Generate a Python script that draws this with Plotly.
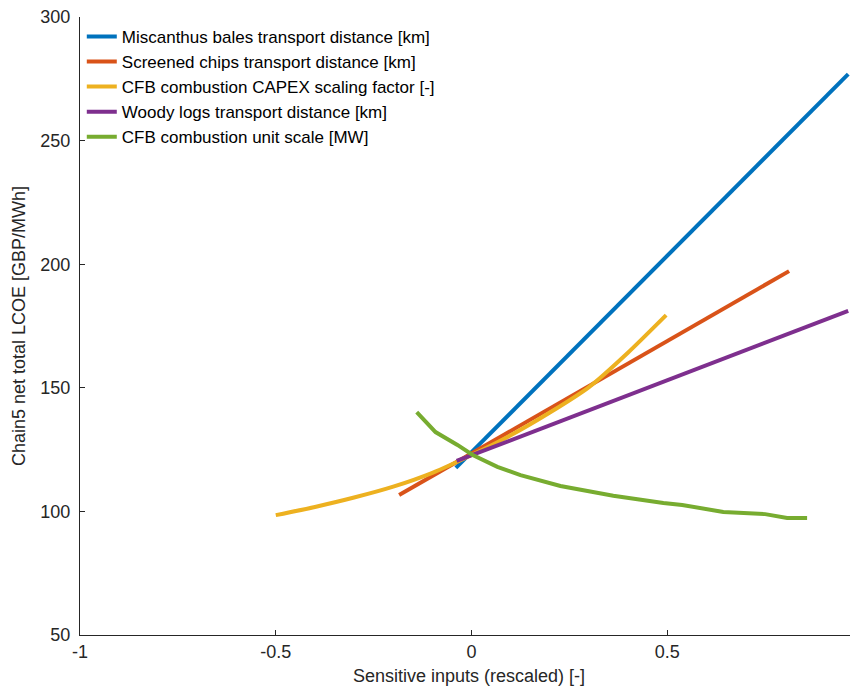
import plotly.graph_objects as go

# ---- data ----
mis_x = [-0.04, 0.962]
mis_y = [117.6, 276.9]

chips_x = [-0.185, 0.811]
chips_y = [106.6, 197.2]

capex_x = [-0.5, -0.4, -0.3, -0.2, -0.1, 0.0, 0.1, 0.2, 0.3, 0.4, 0.497]
capex_y = [98.5, 101.8, 105.6, 110.0, 115.6, 122.8, 130.8, 140.0, 150.3, 164.3, 179.4]

logs_x = [-0.038, 0.962]
logs_y = [120.4, 181.1]

scale_x = [-0.140, -0.092, -0.036, 0.003, 0.066, 0.125, 0.227, 0.362, 0.490, 0.538, 0.643, 0.750, 0.806, 0.857]
scale_y = [140.2, 132.1, 126.9, 122.8, 118.0, 114.7, 110.3, 106.3, 103.4, 102.6, 99.8, 98.9, 97.3, 97.3]

names = [
    "Miscanthus bales transport distance [km]",
    "Screened chips transport distance [km]",
    "CFB combustion CAPEX scaling factor [-]",
    "Woody logs transport distance [km]",
    "CFB combustion unit scale [MW]",
]
colors = ["#0072BD", "#D95319", "#EDB120", "#7E2F8E", "#77AC30"]
shapes = ["linear", "linear", "spline", "linear", "linear"]
series = [(mis_x, mis_y), (chips_x, chips_y), (capex_x, capex_y), (logs_x, logs_y), (scale_x, scale_y)]

x_ticks = [-1, -0.5, 0, 0.5]
x_ticklabels = ["-1", "-0.5", "0", "0.5"]
y_ticks = [50, 100, 150, 200, 250, 300]

FONT = "Liberation Sans, Arial, Helvetica, sans-serif"
AX = "#262626"

fig = go.Figure()
for i, ((xs, ys), nm, c, sh) in enumerate(zip(series, names, colors, shapes)):
    fig.add_trace(go.Scatter(
        x=xs, y=ys, mode="lines", name=nm, legendgroup=f"g{i}",
        line=dict(color=c, width=4, shape=sh, smoothing=0.6),
    ))

fig.update_layout(
    width=850, height=683,
    margin=dict(l=72, r=0, t=9, b=56),
    paper_bgcolor="white", plot_bgcolor="white",
    font=dict(family=FONT, size=17, color=AX),
    showlegend=True,
    legend=dict(
        x=0.0023, y=0.997, xanchor="left", yanchor="top",
        bgcolor="rgba(0,0,0,0)", borderwidth=0,
        font=dict(size=17, color="#000000"),
        tracegroupgap=0, itemwidth=30,
    ),
    xaxis=dict(
        range=[-1, 0.987], tickvals=x_ticks, ticktext=x_ticklabels,
        showline=True, linecolor=AX, linewidth=1, mirror=False,
        ticks="inside", ticklen=5, tickcolor=AX,
        showgrid=False, zeroline=False, automargin=False,
        ticklabeloverflow="allow",
        tickfont=dict(size=18, color=AX),
        title=dict(text="Sensitive inputs (rescaled) [-]", font=dict(size=18, color=AX), standoff=8),
    ),
    yaxis=dict(
        range=[50, 300], tickvals=y_ticks,
        showline=True, linecolor=AX, linewidth=1, mirror=False,
        ticks="inside", ticklen=5, tickcolor=AX,
        showgrid=False, zeroline=False, automargin=False,
        ticklabeloverflow="allow", ticklabelstandoff=5,
        tickfont=dict(size=18, color=AX),
        title=dict(text="Chain5 net total LCOE [GBP/MWh]", font=dict(size=18, color=AX), standoff=10),
    ),
)

fig.write_html("out.html")
